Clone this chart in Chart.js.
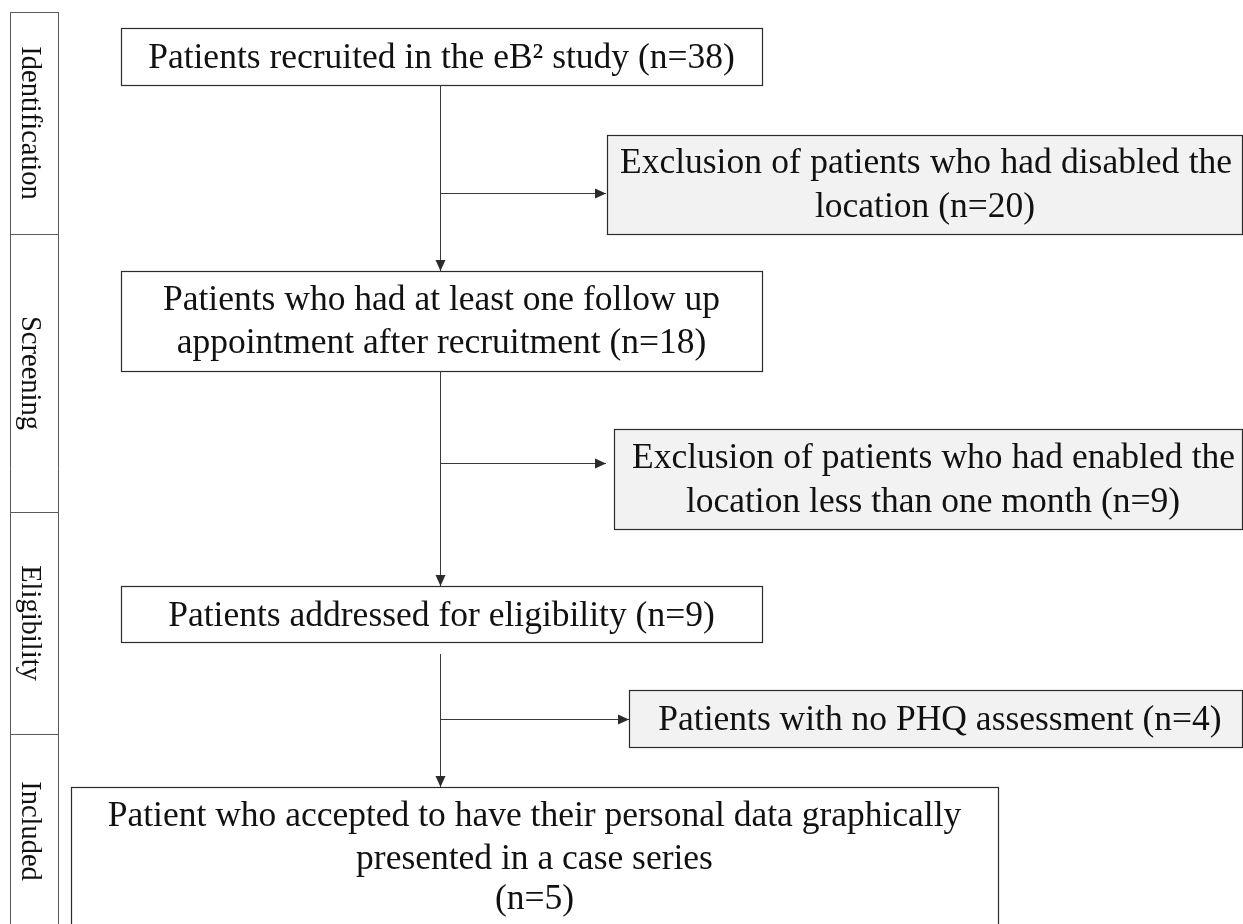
<!DOCTYPE html>
<html>
<head>
<meta charset="utf-8">
<script src="https://cdn.jsdelivr.net/npm/chart.js@4.4.1/dist/chart.umd.min.js"></script>
<style>
    html, body { margin: 0; padding: 0; background: #ffffff; }
    #wrap { width: 1243px; height: 924px; }
</style>
</head>
<body>
<div id="wrap"><canvas id="flowChart" width="1243" height="924"></canvas></div>
<script>
// ---- Data ----
const stages = ['Identification', 'Screening', 'Eligibility', 'Included'];
const flowCounts = [38, 18, 9, 5];
const exclusionCounts = [20, 9, 4];

const flowLines = [
    ['Patients recruited in the eB\u00B2 study (n=' + flowCounts[0] + ')'],
    ['Patients who had at least one follow up', 'appointment after recruitment (n=' + flowCounts[1] + ')'],
    ['Patients addressed for eligibility (n=' + flowCounts[2] + ')'],
    ['Patient who accepted to have their personal data graphically', 'presented in a case series', '(n=' + flowCounts[3] + ')']
];
const exclusionLines = [
    ['Exclusion of patients who had disabled the', 'location (n=' + exclusionCounts[0] + ')'],
    ['Exclusion of patients who had enabled the', 'location less than one month (n=' + exclusionCounts[1] + ')'],
    ['Patients with no PHQ assessment (n=' + exclusionCounts[2] + ')']
];

// ---- Layout (in the reference's pixel space, mapped through the scales) ----
const stageColumn = [10, 58];
const stageBands = [[12, 234], [234, 512], [512, 734], [734, 960]];
const stageLabelEnd = 928; // last band runs off the page, label sits in the visible part
const flowBoxes = [
    { x: [121, 762], y: [28, 85], baselines: [68] },
    { x: [121, 762], y: [271, 371], baselines: [310, 353] },
    { x: [121, 762], y: [586, 642], baselines: [626] },
    { x: [71, 998], y: [787, 960], baselines: [826, 869, 909] }
];
const exclusionBoxes = [
    { x: [607, 1242], y: [135, 234], baselines: [173, 217], textX: 925, justify: [[620, 1232], null] },
    { x: [614, 1242], y: [429, 529], baselines: [468, 512], textX: 933, justify: [[632, 1235], null] },
    { x: [629, 1242], y: [690, 747], baselines: [730], textX: 940, justify: [null] }
];
const spineX = 440.5;
const connectors = [
    [[spineX, 85], [spineX, 271]],
    [[spineX, 193.5], [606, 193.5]],
    [[spineX, 371], [spineX, 586]],
    [[spineX, 463.5], [606, 463.5]],
    [[spineX, 654], [spineX, 787]],
    [[spineX, 719.5], [629, 719.5]]
];

const serif = '"Liberation Serif", "Times New Roman", Times, serif';
const boxFont = '35.5px ' + serif;
const stageFont = '28.5px ' + serif;

// Vẽ chữ căn đều hai bên trong khoảng [x0, x1]
function justifyText(ctx, text, x0, x1, y) {
    const words = text.split(' ');
    const widths = words.map(w => ctx.measureText(w).width);
    const total = widths.reduce((a, b) => a + b, 0);
    const gap = (x1 - x0 - total) / (words.length - 1);
    let x = x0;
    ctx.textAlign = 'left';
    words.forEach((w, i) => {
        ctx.fillText(w, x, y);
        x += widths[i] + gap;
    });
}

const flowPlugin = {
    id: 'flowBoxes',
    beforeDatasetsDraw(chart) {
        const ctx = chart.ctx;
        const sx = chart.scales.x, sy = chart.scales.y;
        const X = v => sx.getPixelForValue(v);
        const Y = v => sy.getPixelForValue(v);
        ctx.save();

        // Cột giai đoạn bên trái
        ctx.strokeStyle = '#5a5a5a';
        ctx.lineWidth = 1;
        ctx.beginPath();
        const top = Y(stageBands[0][0]) + 0.5;
        const bottom = Y(stageBands[stageBands.length - 1][1]);
        ctx.moveTo(X(stageColumn[0]) + 0.5, top);
        ctx.lineTo(X(stageColumn[0]) + 0.5, bottom);
        ctx.moveTo(X(stageColumn[1]) + 0.5, top);
        ctx.lineTo(X(stageColumn[1]) + 0.5, bottom);
        stageBands.forEach(b => {
            ctx.moveTo(X(stageColumn[0]), Y(b[0]) + 0.5);
            ctx.lineTo(X(stageColumn[1]) + 1, Y(b[0]) + 0.5);
        });
        ctx.stroke();

        // Các hộp
        const drawBox = (box, fill) => {
            const x0 = Math.round(X(box.x[0])), x1 = Math.round(X(box.x[1]));
            const y0 = Math.round(Y(box.y[0])), y1 = Math.round(Y(box.y[1]));
            ctx.fillStyle = fill;
            ctx.fillRect(x0, y0, x1 - x0, y1 - y0);
            ctx.strokeStyle = '#2b2b2b';
            ctx.lineWidth = 1.2;
            ctx.strokeRect(x0 + 0.5, y0 + 0.5, x1 - x0, y1 - y0);
        };
        flowBoxes.forEach(b => drawBox(b, '#ffffff'));
        exclusionBoxes.forEach(b => drawBox(b, '#f2f2f2'));
        ctx.restore();
    },
    afterDatasetsDraw(chart) {
        const ctx = chart.ctx;
        const sx = chart.scales.x, sy = chart.scales.y;
        const X = v => sx.getPixelForValue(v);
        const Y = v => sy.getPixelForValue(v);
        ctx.save();

        // Đầu mũi tên ở cuối mỗi đường nối
        ctx.fillStyle = '#2b2b2b';
        chart.data.datasets.forEach((ds, i) => {
            const pts = chart.getDatasetMeta(i).data;
            const a = pts[pts.length - 2], b = pts[pts.length - 1];
            const ang = Math.atan2(b.y - a.y, b.x - a.x);
            const len = 11, half = 5;
            ctx.save();
            ctx.translate(b.x, b.y);
            ctx.rotate(ang);
            ctx.beginPath();
            ctx.moveTo(0, 0);
            ctx.lineTo(-len, -half);
            ctx.lineTo(-len, half);
            ctx.closePath();
            ctx.fill();
            ctx.restore();
        });

        // Chữ trong hộp
        ctx.fillStyle = '#111111';
        ctx.textBaseline = 'alphabetic';
        ctx.font = boxFont;
        flowBoxes.forEach((box, i) => {
            const cx = X((box.x[0] + box.x[1]) / 2);
            flowLines[i].forEach((line, k) => {
                ctx.textAlign = 'center';
                ctx.fillText(line, cx, Y(box.baselines[k]));
            });
        });
        exclusionBoxes.forEach((box, i) => {
            exclusionLines[i].forEach((line, k) => {
                const j = box.justify[k];
                if (j) {
                    justifyText(ctx, line, X(j[0]), X(j[1]), Y(box.baselines[k]));
                } else {
                    ctx.textAlign = 'center';
                    ctx.fillText(line, X(box.textX), Y(box.baselines[k]));
                }
            });
        });

        // Nhãn giai đoạn (xoay 90 độ)
        ctx.font = stageFont;
        ctx.textAlign = 'center';
        stages.forEach((name, i) => {
            const b = stageBands[i];
            const cy = Y((b[0] + Math.min(b[1], stageLabelEnd)) / 2);
            ctx.save();
            ctx.translate(X(22), cy);
            ctx.rotate(Math.PI / 2);
            ctx.fillText(name, 0, 0);
            ctx.restore();
        });
        ctx.restore();
    }
};

const canvas = document.getElementById('flowChart');
new Chart(canvas.getContext('2d'), {
    type: 'scatter',
    data: {
        datasets: connectors.map(seg => ({
            data: seg.map(p => ({ x: p[0], y: p[1] })),
            showLine: true,
            borderColor: '#3a3a3a',
            borderWidth: 1,
            pointRadius: 0,
            pointHoverRadius: 0,
            tension: 0,
            fill: false,
            clip: false
        }))
    },
    options: {
        responsive: false,
        animation: false,
        events: [],
        layout: { padding: 0 },
        plugins: {
            legend: { display: false },
            tooltip: { enabled: false }
        },
        scales: {
            x: { type: 'linear', min: 0, max: 1243, display: false },
            y: { type: 'linear', min: 0, max: 924, reverse: true, display: false }
        }
    },
    plugins: [flowPlugin]
});
</script>
</body>
</html>
